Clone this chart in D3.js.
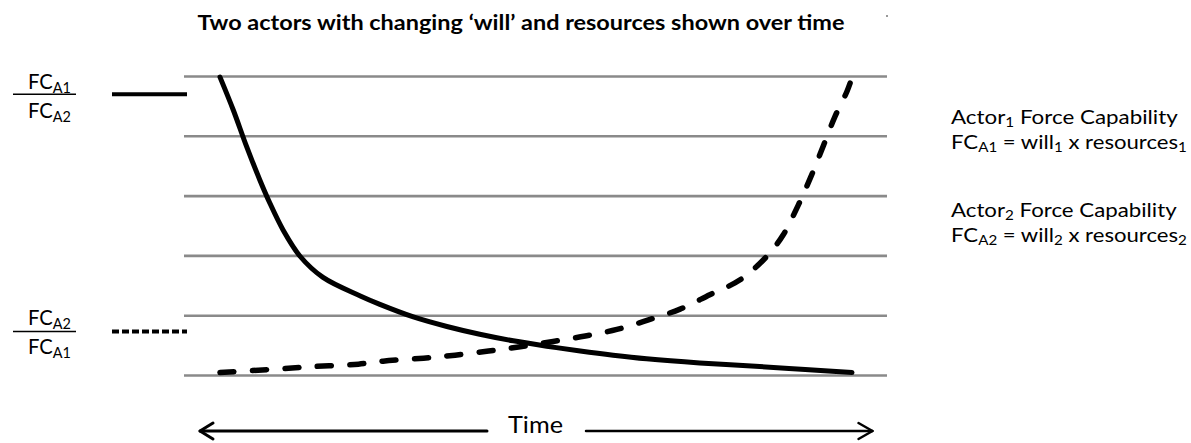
<!DOCTYPE html>
<html>
<head>
<meta charset="utf-8">
<script src="https://cdn.jsdelivr.net/npm/d3@7"></script>
<style>
  html, body { margin: 0; padding: 0; background: #fff; }
  svg { display: block; }
  text { font-family: "Lato", "Open Sans", "DejaVu Sans", sans-serif; fill: #000; }
</style>
</head>
<body>
<svg id="chart" width="1191" height="443"></svg>
<script>
// ---- data ----
const titleText = "Two actors with changing \u2018will\u2019 and resources shown over time";
const gridLevels = [0, 1, 2, 3, 4, 5];

// Actor 1 / Actor 2 ratio (solid)
const solidTime   = [0, 2.1, 4.2, 6.3, 7.9, 10.0, 12.7, 16.3, 22.2, 25.3, 30.6, 35.9, 41.1, 46.4, 51.7, 57.0, 62.2, 67.5, 75.9, 85.4, 92.6, 100];
const solidValues = [4.99, 4.44, 3.83, 3.27, 2.88, 2.43, 1.99, 1.64, 1.33, 1.19, 0.98, 0.82, 0.69, 0.58, 0.49, 0.41, 0.34, 0.28, 0.21, 0.15, 0.10, 0.05];

// Actor 2 / Actor 1 ratio (dashed)
const dashedTime   = [0, 7.8, 14.9, 21.9, 25.8, 32.2, 37.2, 42.5, 47.5, 52.7, 57.8, 62.8, 67.8, 72.8, 77.5, 82.3, 86.5, 89.1, 91.5, 93.6, 95.5, 97.3, 99.2, 100];
const dashedValues = [0.05, 0.10, 0.15, 0.19, 0.24, 0.29, 0.34, 0.41, 0.48, 0.57, 0.66, 0.77, 0.93, 1.11, 1.35, 1.60, 1.99, 2.35, 2.85, 3.35, 3.85, 4.33, 4.75, 4.98];

const legendRatios = [
  { num: "A1", den: "A2", style: "solid" },
  { num: "A2", den: "A1", style: "dashed" }
];
const actorNotes = [
  { idx: "1", fc: "A1" },
  { idx: "2", fc: "A2" }
];
const axisLabel = "Time";

// ---- layout ----
const svg = d3.select("#chart");
const x = d3.scaleLinear().domain([0, 100]).range([220, 852]);
const y = d3.scaleLinear().domain([0, 5]).range([375.5, 76.5]);
const gridX0 = 184, gridX1 = 887;

// small grey speck near top right
svg.append("rect").attr("x", 886).attr("y", 15).attr("width", 2).attr("height", 2).attr("fill", "#999");

// title
svg.append("text")
  .attr("x", 521).attr("y", 30)
  .attr("text-anchor", "middle")
  .attr("font-weight", "bold")
  .attr("font-size", 20)
  .attr("textLength", 647).attr("lengthAdjust", "spacingAndGlyphs")
  .text(titleText);

// gridlines
svg.append("g").selectAll("line").data(gridLevels).join("line")
  .attr("x1", gridX0).attr("x2", gridX1)
  .attr("y1", d => y(d)).attr("y2", d => y(d))
  .attr("stroke", "#8a8a8a").attr("stroke-width", 2.6);

// curves
const line = d3.line().x(d => x(d[0])).y(d => y(d[1])).curve(d3.curveCatmullRom.alpha(0.5));
const solidData = solidTime.map((t, i) => [t, solidValues[i]]);
const dashedData = dashedTime.map((t, i) => [t, dashedValues[i]]);

svg.append("path").datum(solidData)
  .attr("d", line).attr("fill", "none")
  .attr("stroke", "#000").attr("stroke-width", 5)
  .attr("stroke-linecap", "round").attr("stroke-linejoin", "round");

svg.append("path").datum(dashedData)
  .attr("d", line).attr("fill", "none")
  .attr("stroke", "#000").attr("stroke-width", 5.5)
  .attr("stroke-linecap", "round")
  .attr("stroke-dasharray", "14,18.5");

// helper: append rich text lines (with subscripts) into one <text>
function richText(g, lines, xPos, yPos, lineGap, size, subSize, subShift) {
  const t = g.append("text").attr("x", xPos).attr("y", yPos).attr("font-size", size);
  lines.forEach((parts, li) => {
    let shifted = false;
    parts.forEach((p, pi) => {
      const ts = t.append("tspan").text(p.t);
      if (pi === 0 && li > 0) ts.attr("x", xPos).attr("y", yPos + li * lineGap);
      if (p.sub) {
        ts.attr("font-size", subSize).attr("dy", subShift);
        shifted = true;
      } else if (shifted) {
        ts.attr("dy", -subShift);
        shifted = false;
      }
    });
  });
  return t;
}
// stretch a text horizontally to a target width, anchored at its left x
function fitWidth(t, xPos, target) {
  const w = t.node().getBBox().width;
  if (w > 0) {
    const sx = target / w;
    t.attr("transform", `translate(${xPos},0) scale(${sx},1) translate(${-xPos},0)`);
  }
}

// left legend fractions
const legendY = [{ num: 89.5, bar: 94.3, den: 118 }, { num: 325, bar: 331.5, den: 354 }];
legendRatios.forEach((r, i) => {
  const g = svg.append("g");
  const ly = legendY[i];
  fitWidth(richText(g, [[{ t: "FC" }, { t: r.num, sub: true }]], 28, ly.num, 0, 21, 15, 4), 28, 43);
  g.append("line").attr("x1", 13).attr("x2", 76).attr("y1", ly.bar).attr("y2", ly.bar)
    .attr("stroke", "#000").attr("stroke-width", 1.6);
  fitWidth(richText(g, [[{ t: "FC" }, { t: r.den, sub: true }]], 28, ly.den, 0, 21, 15, 4), 28, 43);
  const ln = g.append("line").attr("x1", 112).attr("x2", 187)
    .attr("y1", ly.bar).attr("y2", ly.bar)
    .attr("stroke", "#000").attr("stroke-width", 4);
  if (r.style === "dashed") ln.attr("stroke-dasharray", "7,3");
});

// right notes (two lines each)
const noteY = [124, 217];
const noteW = [[227, 236], [226, 236]];
actorNotes.forEach((n, i) => {
  const g = svg.append("g");
  const t1 = richText(g, [[{ t: "Actor" }, { t: n.idx, sub: true }, { t: " Force Capability" }]],
    951, noteY[i], 0, 19, 13, 3);
  fitWidth(t1, 951, noteW[i][0]);
  const t2 = richText(g, [[{ t: "FC" }, { t: n.fc, sub: true }, { t: " = will" }, { t: n.idx, sub: true }, { t: " x resources" }, { t: n.idx, sub: true }]],
    951, noteY[i] + 25, 0, 19, 13, 3);
  fitWidth(t2, 951, noteW[i][1]);
});

// time arrow
const ay = 431;
const ax0 = x.range()[0] - 20, ax1 = x.range()[1] + 20.5;
const arrowG = svg.append("g").attr("fill", "none").attr("stroke", "#000").attr("stroke-linecap", "round").attr("stroke-linejoin", "round");
arrowG.append("line").attr("x1", ax0).attr("x2", 487).attr("y1", ay).attr("y2", ay).attr("stroke-width", 3);
arrowG.append("line").attr("x1", 586).attr("x2", ax1).attr("y1", ay).attr("y2", ay).attr("stroke-width", 2.5);
arrowG.append("path").attr("d", `M${ax0 + 13},${ay - 8} L${ax0},${ay} L${ax0 + 13},${ay + 8}`).attr("stroke-width", 3);
arrowG.append("path").attr("d", `M${ax1 - 14},${ay - 8} L${ax1},${ay} L${ax1 - 14},${ay + 8}`).attr("stroke-width", 2.5);

svg.append("text").attr("x", 535.5).attr("y", 433).attr("text-anchor", "middle")
  .attr("font-size", 24).attr("textLength", 55).attr("lengthAdjust", "spacingAndGlyphs")
  .text(axisLabel);
</script>
</body>
</html>
